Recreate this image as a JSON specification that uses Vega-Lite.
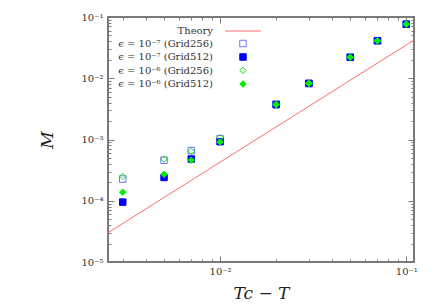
{
  "$schema": "https://vega.github.io/schema/vega-lite/v6.json",
  "width": 306,
  "height": 245,
  "autosize": {"type": "none"},
  "padding": {"left": 108, "top": 17, "right": 22, "bottom": 44},
  "background": "white",
  "config": {
    "view": {"stroke": "#7a7a7a", "strokeWidth": 2},
    "font": "DejaVu Serif",
    "axis": {"grid": false, "domain": false, "tickColor": "#7a7a7a", "tickWidth": 1, "labelFont": "DejaVu Serif", "labelFontSize": 10, "labelColor": "#333", "titleFont": "DejaVu Serif", "titleFontStyle": "italic", "titleFontWeight": "normal", "titleFontSize": 17, "titleColor": "#222", "labelFlush": false, "labelOverlap": false, "labelBound": false}
  },
  "data": {"values": [
    {"series": "Theory", "t": 0.0025, "M": 0.00003},
    {"series": "Theory", "t": 0.11, "M": 0.042},
    {"series": "ϵ = 10⁻⁷ (Grid256)", "t": 0.003, "M": 0.000226},
    {"series": "ϵ = 10⁻⁷ (Grid256)", "t": 0.005, "M": 0.00046},
    {"series": "ϵ = 10⁻⁷ (Grid256)", "t": 0.007, "M": 0.00066},
    {"series": "ϵ = 10⁻⁷ (Grid256)", "t": 0.01, "M": 0.00103},
    {"series": "ϵ = 10⁻⁷ (Grid256)", "t": 0.02, "M": 0.0038},
    {"series": "ϵ = 10⁻⁷ (Grid256)", "t": 0.03, "M": 0.0083},
    {"series": "ϵ = 10⁻⁷ (Grid256)", "t": 0.05, "M": 0.022},
    {"series": "ϵ = 10⁻⁷ (Grid256)", "t": 0.07, "M": 0.041},
    {"series": "ϵ = 10⁻⁷ (Grid256)", "t": 0.1, "M": 0.077},
    {"series": "ϵ = 10⁻⁷ (Grid512)", "t": 0.003, "M": 0.000095},
    {"series": "ϵ = 10⁻⁷ (Grid512)", "t": 0.005, "M": 0.00024},
    {"series": "ϵ = 10⁻⁷ (Grid512)", "t": 0.007, "M": 0.00048},
    {"series": "ϵ = 10⁻⁷ (Grid512)", "t": 0.01, "M": 0.00092},
    {"series": "ϵ = 10⁻⁷ (Grid512)", "t": 0.02, "M": 0.0037},
    {"series": "ϵ = 10⁻⁷ (Grid512)", "t": 0.03, "M": 0.0082},
    {"series": "ϵ = 10⁻⁷ (Grid512)", "t": 0.05, "M": 0.022},
    {"series": "ϵ = 10⁻⁷ (Grid512)", "t": 0.07, "M": 0.041},
    {"series": "ϵ = 10⁻⁷ (Grid512)", "t": 0.1, "M": 0.076},
    {"series": "ϵ = 10⁻⁶ (Grid256)", "t": 0.003, "M": 0.00025},
    {"series": "ϵ = 10⁻⁶ (Grid256)", "t": 0.005, "M": 0.00048},
    {"series": "ϵ = 10⁻⁶ (Grid256)", "t": 0.007, "M": 0.00064},
    {"series": "ϵ = 10⁻⁶ (Grid256)", "t": 0.01, "M": 0.00107},
    {"series": "ϵ = 10⁻⁶ (Grid256)", "t": 0.02, "M": 0.0038},
    {"series": "ϵ = 10⁻⁶ (Grid256)", "t": 0.03, "M": 0.0083},
    {"series": "ϵ = 10⁻⁶ (Grid256)", "t": 0.05, "M": 0.022},
    {"series": "ϵ = 10⁻⁶ (Grid256)", "t": 0.07, "M": 0.041},
    {"series": "ϵ = 10⁻⁶ (Grid256)", "t": 0.1, "M": 0.077},
    {"series": "ϵ = 10⁻⁶ (Grid512)", "t": 0.003, "M": 0.000138},
    {"series": "ϵ = 10⁻⁶ (Grid512)", "t": 0.005, "M": 0.00027},
    {"series": "ϵ = 10⁻⁶ (Grid512)", "t": 0.007, "M": 0.00046},
    {"series": "ϵ = 10⁻⁶ (Grid512)", "t": 0.01, "M": 0.00091},
    {"series": "ϵ = 10⁻⁶ (Grid512)", "t": 0.02, "M": 0.0037},
    {"series": "ϵ = 10⁻⁶ (Grid512)", "t": 0.03, "M": 0.0082},
    {"series": "ϵ = 10⁻⁶ (Grid512)", "t": 0.05, "M": 0.022},
    {"series": "ϵ = 10⁻⁶ (Grid512)", "t": 0.07, "M": 0.041},
    {"series": "ϵ = 10⁻⁶ (Grid512)", "t": 0.1, "M": 0.076}
  ]},
  "resolve": {"axis": {"x": "independent", "y": "independent"}},
  "layer": [
    {
      "transform": [{"filter": "datum.series !== 'Theory'"}],
      "mark": {"type": "point", "opacity": 1, "strokeWidth": 1, "size": 42},
      "encoding": {
        "x": {"field": "t", "type": "quantitative",
          "scale": {"type": "log", "domain": [0.0025, 0.11], "nice": false},
          "axis": {"orient": "bottom", "title": "Tc − T", "titlePadding": 6, "labelPadding": 10,
            "values": [0.003,0.004,0.005,0.006,0.007,0.008,0.009,0.01,0.02,0.03,0.04,0.05,0.06,0.07,0.08,0.09,0.1],
            "labelExpr": "abs(log(datum.value)/LN10 - round(log(datum.value)/LN10)) < 0.001 ? '10⁻' + ['⁰','¹','²','³','⁴','⁵'][-round(log(datum.value)/LN10)] : ''",
            "tickSize": {"condition": {"test": "abs(log(datum.value)/LN10 - round(log(datum.value)/LN10)) < 0.001", "value": -6}, "value": -3}}},
        "y": {"field": "M", "type": "quantitative",
          "scale": {"type": "log", "domain": [0.00001, 0.1], "nice": false},
          "axis": {"orient": "left", "title": "M", "titlePadding": 24, "labelPadding": 11,
            "values": [0.00001,0.00002,0.00003,0.00004,0.00005,0.00006,0.00007,0.00008,0.00009,0.0001,0.0002,0.0003,0.0004,0.0005,0.0006,0.0007,0.0008,0.0009,0.001,0.002,0.003,0.004,0.005,0.006,0.007,0.008,0.009,0.01,0.02,0.03,0.04,0.05,0.06,0.07,0.08,0.09,0.1],
            "labelExpr": "abs(log(datum.value)/LN10 - round(log(datum.value)/LN10)) < 0.001 ? '10⁻' + ['⁰','¹','²','³','⁴','⁵'][-round(log(datum.value)/LN10)] : ''",
            "tickSize": {"condition": {"test": "abs(log(datum.value)/LN10 - round(log(datum.value)/LN10)) < 0.001", "value": -6}, "value": -3}}},
        "shape": {"field": "series", "type": "nominal",
          "scale": {"domain": ["Theory", "ϵ = 10⁻⁷ (Grid256)", "ϵ = 10⁻⁷ (Grid512)", "ϵ = 10⁻⁶ (Grid256)", "ϵ = 10⁻⁶ (Grid512)"],
                    "range": ["M-5.5,0H5.5", "square", "square", "diamond", "diamond"]},
          "legend": {"orient": "none", "legendX": 130, "legendY": 9, "title": null, "labelAlign": "right", "labelOffset": -35, "padding": 0, "rowPadding": 1.5, "labelFont": "DejaVu Serif", "labelFontSize": 10, "labelColor": "#333", "symbolStrokeWidth": 1, "symbolSize": 42}},
        "stroke": {"field": "series", "type": "nominal",
          "scale": {"domain": ["Theory", "ϵ = 10⁻⁷ (Grid256)", "ϵ = 10⁻⁷ (Grid512)", "ϵ = 10⁻⁶ (Grid256)", "ϵ = 10⁻⁶ (Grid512)"],
                    "range": ["#ff6a6a", "#7070ff", "#0000ff", "#00ee00", "#00ee00"]},
          "legend": {"orient": "none", "legendX": 130, "legendY": 9, "title": null, "labelAlign": "right", "labelOffset": -35, "padding": 0, "rowPadding": 1.5, "labelFont": "DejaVu Serif", "labelFontSize": 10, "labelColor": "#333", "symbolStrokeWidth": 1, "symbolSize": 42}},
        "fill": {"field": "series", "type": "nominal",
          "scale": {"domain": ["Theory", "ϵ = 10⁻⁷ (Grid256)", "ϵ = 10⁻⁷ (Grid512)", "ϵ = 10⁻⁶ (Grid256)", "ϵ = 10⁻⁶ (Grid512)"],
                    "range": ["transparent", "transparent", "#0000ff", "transparent", "#00ee00"]},
          "legend": {"orient": "none", "legendX": 130, "legendY": 9, "title": null, "labelAlign": "right", "labelOffset": -35, "padding": 0, "rowPadding": 1.5, "labelFont": "DejaVu Serif", "labelFontSize": 10, "labelColor": "#333", "symbolStrokeWidth": 1, "symbolSize": 42}}
      }
    },
    {
      "transform": [{"filter": "datum.series === 'Theory'"}],
      "mark": {"type": "line", "strokeWidth": 1, "clip": true},
      "encoding": {
        "x": {"field": "t", "type": "quantitative",
          "scale": {"type": "log", "domain": [0.0025, 0.11], "nice": false},
          "axis": {"orient": "top", "title": null, "labels": false,
            "values": [0.003,0.004,0.005,0.006,0.007,0.008,0.009,0.01,0.02,0.03,0.04,0.05,0.06,0.07,0.08,0.09,0.1],
            "tickSize": {"condition": {"test": "abs(log(datum.value)/LN10 - round(log(datum.value)/LN10)) < 0.001", "value": -6}, "value": -3}}},
        "y": {"field": "M", "type": "quantitative",
          "scale": {"type": "log", "domain": [0.00001, 0.1], "nice": false},
          "axis": {"orient": "right", "title": null, "labels": false,
            "values": [0.00001,0.00002,0.00003,0.00004,0.00005,0.00006,0.00007,0.00008,0.00009,0.0001,0.0002,0.0003,0.0004,0.0005,0.0006,0.0007,0.0008,0.0009,0.001,0.002,0.003,0.004,0.005,0.006,0.007,0.008,0.009,0.01,0.02,0.03,0.04,0.05,0.06,0.07,0.08,0.09,0.1],
            "tickSize": {"condition": {"test": "abs(log(datum.value)/LN10 - round(log(datum.value)/LN10)) < 0.001", "value": -6}, "value": -3}}},
        "stroke": {"field": "series", "type": "nominal",
          "scale": {"domain": ["Theory", "ϵ = 10⁻⁷ (Grid256)", "ϵ = 10⁻⁷ (Grid512)", "ϵ = 10⁻⁶ (Grid256)", "ϵ = 10⁻⁶ (Grid512)"],
                    "range": ["#ff6a6a", "#7070ff", "#0000ff", "#00ee00", "#00ee00"]}}
      }
    }
  ]
}
